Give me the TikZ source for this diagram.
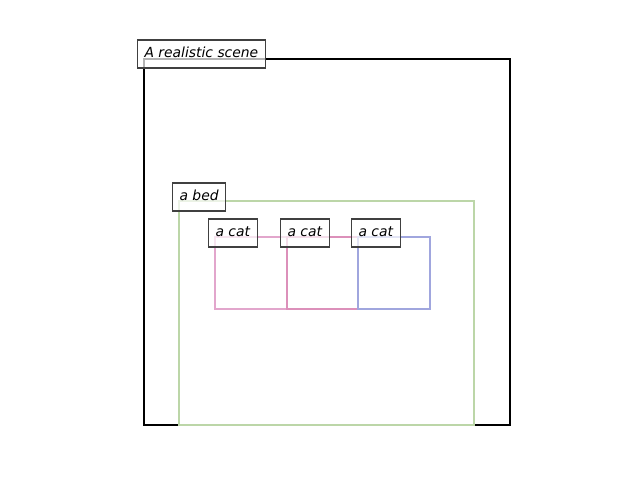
\documentclass[tikz,border=0pt]{standalone}
\usepackage{fontspec}
\setmainfont{DejaVu Sans}
\begin{document}
\begin{tikzpicture}[x=0.72pt,y=-0.72pt,
  frame/.style={draw=black,line width=1.5pt},
  bedbox/.style={draw={rgb,255:red,188;green,214;blue,168},line width=2pt},
  catpinkA/.style={draw={rgb,255:red,226;green,166;blue,204},line width=2pt},
  catpinkB/.style={draw={rgb,255:red,220;green,144;blue,186},line width=2pt},
  catblue/.style={draw={rgb,255:red,160;green,166;blue,222},line width=2pt},
  tag/.style={draw={rgb,255:red,64;green,64;blue,64},line width=0.75pt,fill=white,fill opacity=0.7,text opacity=1,
    font=\itshape\fontsize{10pt}{12pt}\selectfont,inner xsep=5.04pt,inner ysep=0pt,
    minimum height=20.16pt,text height=7.2pt,text depth=2.6pt,anchor=west}]
\useasboundingbox (0,0) rectangle (640,480);
\draw[frame] (144,59) rectangle (510,425);
\draw[bedbox] (179,201) rectangle (474,425);
\draw[catpinkA] (215,237) rectangle (287,309);
\draw[catpinkB] (287,237) rectangle (358,309);
\draw[catblue] (358,237) rectangle (430,309);
\node[tag] (scene) at (137,54) {A realistic scene};
\node[tag] (bed) at (172,197) {a bed};
\node[tag] (cat1) at (208,233) {a cat};
\node[tag] (cat2) at (280,233) {a cat};
\node[tag] (cat3) at (351,233) {a cat};
\end{tikzpicture}
\end{document}
